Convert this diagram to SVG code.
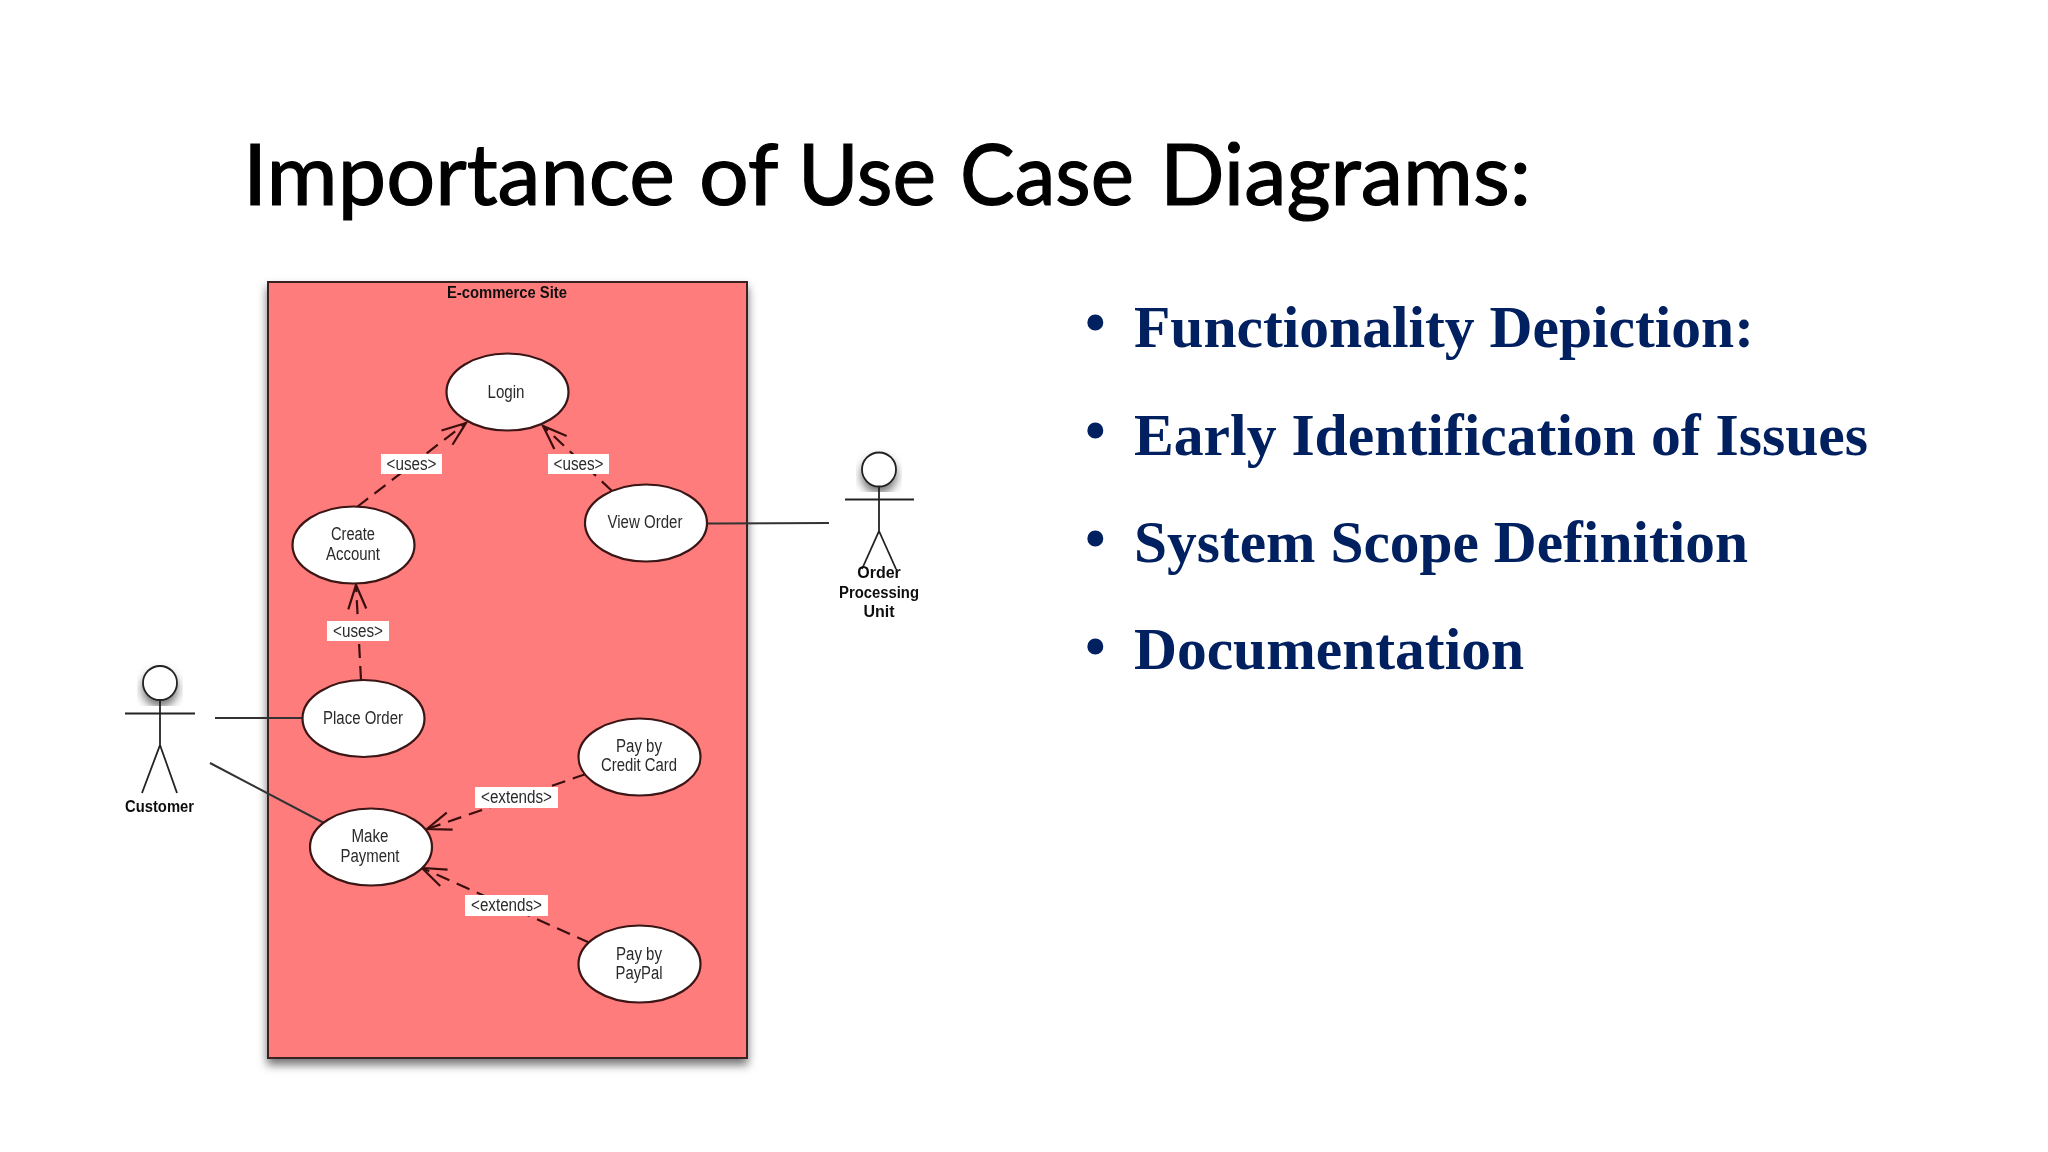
<svg xmlns="http://www.w3.org/2000/svg" width="2048" height="1152" viewBox="0 0 2048 1152">
<style>
.uc{fill:#fff;stroke:#3a1414;stroke-width:2.2}
.t{font-family:"Liberation Sans",Arial,sans-serif;font-size:18px;fill:#2a2a2a;text-anchor:middle}
.b{font-family:"Liberation Sans",Arial,sans-serif;font-size:16px;font-weight:bold;fill:#111;text-anchor:middle}
.lb{fill:#fff}
.dash{fill:none;stroke:#3a1010;stroke-width:2.2;stroke-dasharray:14 8;marker-end:url(#open)}
.solid{fill:none;stroke:#333;stroke-width:2}
.stick{fill:none;stroke:#222;stroke-width:1.8}
.bul{font-family:"Liberation Serif","Times New Roman",serif;font-size:59px;font-weight:bold;fill:#002060}
</style>
<defs>
<marker id="open" markerUnits="userSpaceOnUse" markerWidth="30" markerHeight="30" refX="26" refY="12" orient="auto">
<path d="M2 3 L26 12 L2 21" fill="none" stroke="#3a1010" stroke-width="2.2"/>
</marker>
<filter id="sh" x="-15%" y="-15%" width="130%" height="130%"><feDropShadow dx="0" dy="6" stdDeviation="5" flood-color="#000" flood-opacity="0.55"/></filter>
<filter id="soft" x="0" y="0" width="100%" height="100%" filterUnits="userSpaceOnUse" primitiveUnits="userSpaceOnUse"><feGaussianBlur stdDeviation="0.5"/></filter>
</defs>
<rect width="2048" height="1152" fill="#fff"/>
<text id="title" y="205" font-family="Lato,'Open Sans',sans-serif" font-size="86" fill="#000" stroke="#000" stroke-width="1.2"><tspan x="243" textLength="432" lengthAdjust="spacingAndGlyphs">Importance</tspan> <tspan x="699" textLength="78" lengthAdjust="spacingAndGlyphs">of</tspan> <tspan x="798" textLength="138" lengthAdjust="spacingAndGlyphs">Use</tspan> <tspan x="960" textLength="174" lengthAdjust="spacingAndGlyphs">Case</tspan> <tspan x="1160" textLength="371" lengthAdjust="spacingAndGlyphs">Diagrams:</tspan></text>
<g id="diagram" filter="url(#soft)">
<g id="system">
<rect x="268" y="282" width="479" height="776" fill="#ff7b7b" stroke="#3a2020" stroke-width="2" filter="url(#sh)"/>
<text class="b" x="507" y="298" textLength="120" lengthAdjust="spacingAndGlyphs">E-commerce Site</text>
</g>
<g id="connectors">
<path class="dash" d="M357 507 L466 423"/>
<path class="dash" d="M612 491 L543 426"/>
<path class="dash" d="M361 680 L356 585"/>
<path class="dash" d="M586 774 L427 829"/>
<path class="dash" d="M590 943 L422 868"/>
<path class="solid" d="M707 523.500 L829 523"/>
<path class="solid" d="M215 718 L302 718"/>
<path class="solid" d="M210 763 L324 823"/>
<g id="conn-labels">
<rect class="lb" x="381" y="454" width="61" height="20"/><text class="t" x="411.500" y="470" textLength="50" lengthAdjust="spacingAndGlyphs">&lt;uses&gt;</text>
<rect class="lb" x="548" y="454" width="61" height="20"/><text class="t" x="578.500" y="470" textLength="50" lengthAdjust="spacingAndGlyphs">&lt;uses&gt;</text>
<rect class="lb" x="327" y="621" width="62" height="20"/><text class="t" x="358" y="637" textLength="50" lengthAdjust="spacingAndGlyphs">&lt;uses&gt;</text>
<rect class="lb" x="475" y="787" width="83" height="21"/><text class="t" x="516.500" y="803" textLength="71" lengthAdjust="spacingAndGlyphs">&lt;extends&gt;</text>
<rect class="lb" x="465" y="895" width="83" height="21"/><text class="t" x="506.500" y="911" textLength="71" lengthAdjust="spacingAndGlyphs">&lt;extends&gt;</text>
</g>
</g>
<g id="login"><ellipse class="uc" cx="507.500" cy="392" rx="61" ry="38.500"/><text class="t" x="506" y="398" textLength="37" lengthAdjust="spacingAndGlyphs">Login</text></g>
<g id="create-account"><ellipse class="uc" cx="353.500" cy="545" rx="61" ry="38.500"/><text class="t" x="353" y="540" textLength="44" lengthAdjust="spacingAndGlyphs">Create</text><text class="t" x="353" y="560" textLength="54" lengthAdjust="spacingAndGlyphs">Account</text></g>
<g id="view-order"><ellipse class="uc" cx="646" cy="523" rx="61" ry="38.500"/><text class="t" x="645" y="528" textLength="75" lengthAdjust="spacingAndGlyphs">View Order</text></g>
<g id="place-order"><ellipse class="uc" cx="363.500" cy="718.500" rx="61" ry="38.500"/><text class="t" x="363" y="724" textLength="80" lengthAdjust="spacingAndGlyphs">Place Order</text></g>
<g id="credit-card"><ellipse class="uc" cx="639.500" cy="757" rx="61" ry="38.500"/><text class="t" x="639" y="752" textLength="46" lengthAdjust="spacingAndGlyphs">Pay by</text><text class="t" x="639" y="771" textLength="76" lengthAdjust="spacingAndGlyphs">Credit Card</text></g>
<g id="make-payment"><ellipse class="uc" cx="371" cy="847" rx="61" ry="38.500"/><text class="t" x="370" y="842" textLength="37" lengthAdjust="spacingAndGlyphs">Make</text><text class="t" x="370" y="862" textLength="59" lengthAdjust="spacingAndGlyphs">Payment</text></g>
<g id="paypal"><ellipse class="uc" cx="639.500" cy="964" rx="61" ry="38.500"/><text class="t" x="639" y="960" textLength="46" lengthAdjust="spacingAndGlyphs">Pay by</text><text class="t" x="639" y="979" textLength="47" lengthAdjust="spacingAndGlyphs">PayPal</text></g>
<g id="customer">
<circle cx="160" cy="683" r="17" fill="#fff" stroke="#222" stroke-width="1.8" filter="url(#sh)"/>
<path class="stick" d="M125 713.500 H195 M160 700 V745 L142 793 M160 745 L177 793"/>
<text class="b" x="159.500" y="812" textLength="69" lengthAdjust="spacingAndGlyphs">Customer</text>
</g>
<g id="order-unit">
<circle cx="879" cy="469.500" r="17" fill="#fff" stroke="#222" stroke-width="1.8" filter="url(#sh)"/>
<path class="stick" d="M845 499.500 H914 M879 486 V531 L862 569 M879 531 L896 569"/>
<text class="b" x="879" y="578">Order</text>
<text class="b" x="879" y="598" textLength="80" lengthAdjust="spacingAndGlyphs">Processing</text>
<text class="b" x="879" y="617">Unit</text>
</g>
</g>
<g id="bullets">
<text class="bul" x="1085" y="342">•</text><text class="bul" x="1134" y="347" textLength="620" lengthAdjust="spacingAndGlyphs">Functionality Depiction:</text>
<text class="bul" x="1085" y="450">•</text><text class="bul" x="1134" y="455" textLength="734" lengthAdjust="spacingAndGlyphs">Early Identification of Issues</text>
<text class="bul" x="1085" y="558">•</text><text class="bul" x="1134" y="562" textLength="614" lengthAdjust="spacingAndGlyphs">System Scope Definition</text>
<text class="bul" x="1085" y="666">•</text><text class="bul" x="1134" y="669" textLength="390" lengthAdjust="spacingAndGlyphs">Documentation</text>
</g>
</svg>
